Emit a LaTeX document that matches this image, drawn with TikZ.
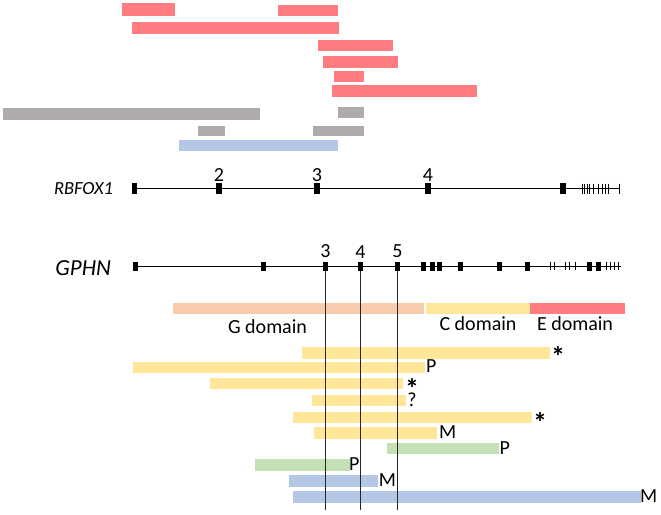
\documentclass[tikz,border=0pt]{standalone}
\usepackage{fontspec}
\setmainfont{Carlito}
\definecolor{cred}{HTML}{FF7C80}
\definecolor{cgray}{HTML}{AFABAB}
\definecolor{cblue}{HTML}{B4C7E7}
\definecolor{cyel}{HTML}{FFE699}
\definecolor{corg}{HTML}{F8CBAD}
\definecolor{cgreen}{HTML}{C5E0B4}
\newcommand{\mystar}{\raisebox{-11.5pt}[8.7pt][0pt]{*}}
\begin{document}
\begin{tikzpicture}[x=1pt,y=-1pt,
  lbl/.style={font=\fontsize{20}{24}\selectfont, inner sep=0pt, outer sep=0pt},
  glbl/.style={font=\fontsize{20}{24}\selectfont\itshape, inner sep=0pt, outer sep=0pt},
  star/.style={font=\fontsize{28}{30}\selectfont\bfseries, inner sep=0pt, outer sep=0pt, anchor=north},
  rexon/.style={fill=black, draw=none, inner sep=0pt, outer sep=0pt, minimum width=5.5pt, minimum height=11pt},
  gexon/.style={fill=black, draw=none, inner sep=0pt, outer sep=0pt, minimum width=5pt, minimum height=9.5pt},
  gene/.style={line width=0.9pt},
  smalltick/.style={line width=0.8pt},
  guide/.style={line width=0.9pt, black!85}]
\useasboundingbox (0,0) rectangle (661,514);

% ---- top bars ----
\fill[cred] (122,3) rectangle (175,16);
\fill[cred] (278,5) rectangle (338,16);
\fill[cred] (132,22) rectangle (339,34);
\fill[cred] (318,40) rectangle (393,51);
\fill[cred] (323,56) rectangle (398,68);
\fill[cred] (334,71) rectangle (364,82);
\fill[cred] (332,85) rectangle (477,97);
\fill[cgray] (3,108) rectangle (260,120);
\fill[cgray] (338,107) rectangle (364,118);
\fill[cgray] (198,126) rectangle (225,136);
\fill[cgray] (313,126) rectangle (364,136);
\fill[cblue] (179,140) rectangle (338,151);

% ---- RBFOX1 ----
\node[glbl, font=\fontsize{18.5}{22}\selectfont\itshape, anchor=base east] (rlab) at (113,194) {RBFOX1};
\node[rexon] (r1) at (134.5,188.5) {};
\node[rexon] (r2) at (219,188.5) {};
\node[rexon] (r3) at (317,188.5) {};
\node[rexon] (r4) at (428,188.5) {};
\node[rexon] (r5) at (563,188.5) {};
\coordinate (rend) at (619,188.5);
\draw[gene] (r1) -- (r2) -- (r3) -- (r4) -- (r5) -- (rend);
\foreach \x in {582,584.5,587,589.5,593,598,602.5,605.5,608.5,619}
  \draw[smalltick] (\x,183.5) -- (\x,193.5);
\node[lbl, anchor=south] (rn2) at (219,181.5) {2};
\node[lbl, anchor=south] (rn3) at (317,181.5) {3};
\node[lbl, anchor=south] (rn4) at (428,181.5) {4};

% ---- GPHN ----
\node[glbl, font=\fontsize{23}{26}\selectfont\itshape, anchor=base east] (glab) at (111,275) {GPHN};
\node[gexon] (g1) at (135,266.5) {};
\node[gexon] (g2) at (263,266.5) {};
\node[gexon] (g3) at (325.5,266.5) {};
\node[gexon] (g4) at (360.5,266.5) {};
\node[gexon] (g5) at (397.5,266.5) {};
\node[gexon] (g6) at (423.5,266.5) {};
\node[gexon] (g7) at (432.5,266.5) {};
\node[gexon] (g8) at (439.5,266.5) {};
\node[gexon] (g9) at (460.5,266.5) {};
\node[gexon] (g10) at (499.5,266.5) {};
\node[gexon] (g11) at (527.5,266.5) {};
\node[gexon] (g12) at (589,266.5) {};
\node[gexon] (g13) at (598.5,266.5) {};
\coordinate (gend) at (621,266.5);
\draw[gene] (g1) -- (g2) -- (g3) -- (g4) -- (g5) -- (g6) -- (g7) -- (g8) -- (g9) -- (g10) -- (g11) -- (g12) -- (g13) -- (gend);
\foreach \x in {550,554,565,569,575,606,610,614,618}
  \draw[smalltick] (\x,262) -- (\x,270);
\node[lbl, anchor=south] (gn3) at (325.5,258) {3};
\node[lbl, anchor=south] (gn4) at (360.5,258) {4};
\node[lbl, anchor=south] (gn5) at (397.5,258) {5};

% ---- domains ----
\fill[corg] (172.7,302.5) rectangle (424.3,313.5);
\fill[cyel] (426,302.5) rectangle (530,313.5);
\fill[cred] (530,302.5) rectangle (625,313.5);
\node[lbl, anchor=base] (gdom) at (267.5,333) {G domain};
\node[lbl, anchor=base] (cdom) at (478,330.5) {C domain};
\node[lbl, anchor=base] (edom) at (575,330.5) {E domain};

% ---- transcript bars ----
\fill[cyel] (302,347) rectangle (550,358.5);
\fill[cyel] (132.8,361.5) rectangle (425.2,372.5);
\fill[cyel] (210.3,377.5) rectangle (403.4,389);
\fill[cyel] (312.4,394.5) rectangle (405.5,406);
\fill[cyel] (293.4,411.5) rectangle (532,423);
\fill[cyel] (314,427) rectangle (437,438.5);
\fill[cgreen] (387,443) rectangle (499,454);
\fill[cgreen] (254.5,459) rectangle (350.3,470.5);
\fill[cblue] (289,475) rectangle (378,486.5);
\fill[cblue] (293,491) rectangle (640.7,502.5);

\node[star] (sA) at (558,346) {\mystar};
\node[lbl, anchor=base west] (pB) at (426.2,372.5) {P};
\node[star] (sC) at (412,378.5) {\mystar};
\node[lbl, anchor=base] (qD) at (412,406.5) {?};
\node[star] (sE) at (540,412.5) {\mystar};
\node[lbl, anchor=base west] (mF) at (439.2,438.5) {M};
\node[lbl, anchor=base west] (pG) at (499.5,454) {P};
\node[lbl, anchor=base west] (pH) at (349,470.5) {P};
\node[lbl, anchor=base west] (mI) at (378.8,486.5) {M};
\node[lbl, anchor=base west] (mJ) at (640,502.5) {M};

% ---- guide lines ----
\coordinate (v3) at (325.5,510);
\coordinate (v4) at (360.5,510);
\coordinate (v5) at (397.5,510);
\draw[guide] (g3) -- (v3);
\draw[guide] (g4) -- (v4);
\draw[guide] (g5) -- (v5);
\end{tikzpicture}
\end{document}
